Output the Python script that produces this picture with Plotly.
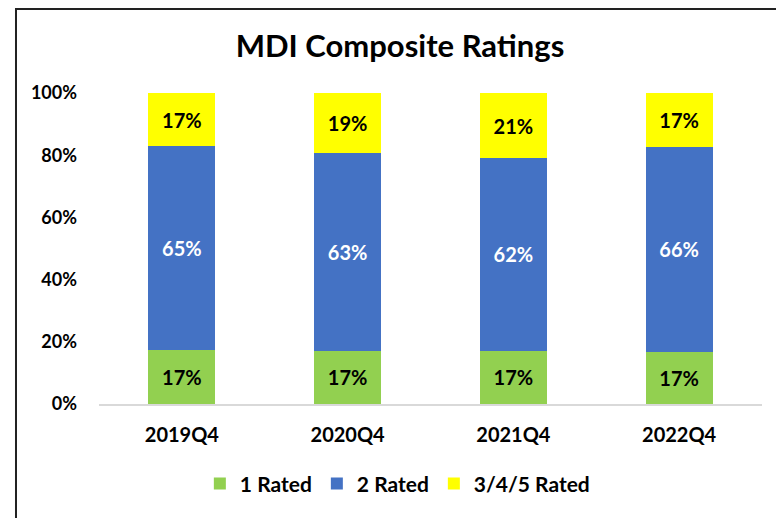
import plotly.graph_objects as go

categories = ["2019Q4", "2020Q4", "2021Q4", "2022Q4"]
rated_1 = [17.4, 17.2, 17.2, 16.8]
rated_2 = [65.4, 63.4, 61.8, 65.8]
rated_345 = [17.2, 19.4, 21.0, 17.4]
y_ticks = [0, 20, 40, 60, 80, 100]
y_tick_labels = ["0%", "20%", "40%", "60%", "80%", "100%"]

FONT = "Lato"

fig = go.Figure()
series = [
    ("1 Rated", rated_1, "#92D050", "black"),
    ("2 Rated", rated_2, "#4472C4", "white"),
    ("3/4/5 Rated", rated_345, "#FFFF00", "black"),
]
for name, vals, color, tcolor in series:
    fig.add_trace(go.Bar(
        name=name, x=categories, y=vals,
        marker=dict(color=color, line=dict(width=0)),
        texttemplate="%{y:.0f}%", textposition="inside",
        insidetextanchor="middle",
        textfont=dict(family=FONT, size=20, color=tcolor, weight="bold"),
        constraintext="none",
    ))

fig.update_layout(
    barmode="stack",
    bargap=0.596,
    width=784, height=518,
    margin=dict(l=91, r=30, t=85, b=122),
    paper_bgcolor="white", plot_bgcolor="white",
    font=dict(family=FONT, color="black"),
    title=dict(text="<b>MDI Composite Ratings</b>", x=0.5, xanchor="center",
               y=0.927, yanchor="middle",
               font=dict(family=FONT, size=31, color="black")),
    xaxis=dict(showline=True, linecolor="#D9D9D9", linewidth=1.5,
               tickfont=dict(family=FONT, size=20, color="black", weight="bold"),
               ticks="", showgrid=False, ticklabelstandoff=12),
    yaxis=dict(range=[0, 100], tickvals=y_ticks, ticktext=y_tick_labels,
               showgrid=False, zeroline=False, showline=False, ticks="",
               ticklabelstandoff=21,
               tickfont=dict(family=FONT, size=18, color="black", weight="bold")),
    legend=dict(orientation="h", x=0.45, xanchor="center", y=-0.257, yanchor="middle",
                font=dict(family=FONT, size=21, color="black", weight="bold"),
                traceorder="normal", itemwidth=30),
    uniformtext=dict(mode=False),
    shapes=[dict(type="rect", xref="paper", yref="paper",
                 x0=-0.1252, x1=1.2, y0=-1, y1=1.270,
                 line=dict(color="#222222", width=2), fillcolor="rgba(0,0,0,0)",
                 layer="above")],
)

fig.write_html("out.html")
